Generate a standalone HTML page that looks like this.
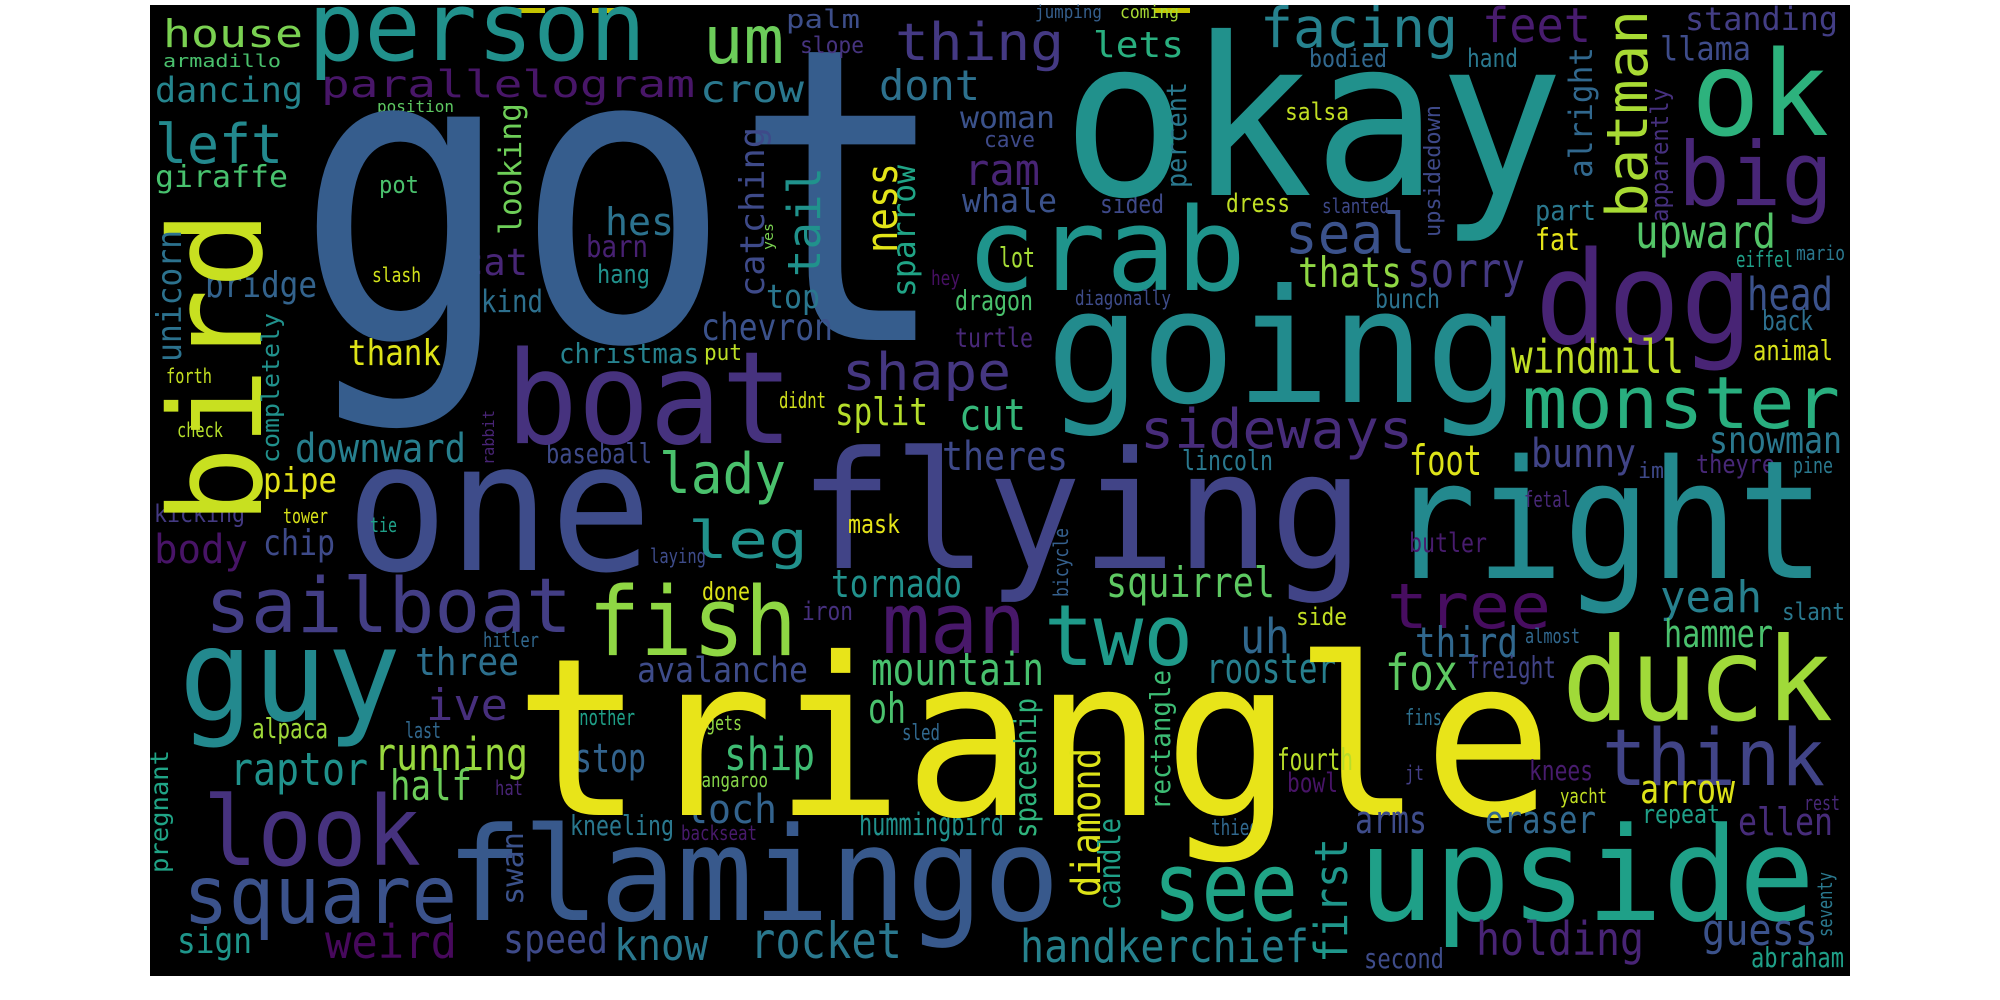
<!DOCTYPE html>
<html>
<head>
<meta charset="utf-8">
<style>
html,body{margin:0;padding:0;background:#fff;}
svg{display:block;}
text{font-family:"DejaVu Sans Mono","Liberation Mono",monospace;}
</style>
</head>
<body>
<svg id="cloud" width="2000" height="1000" viewBox="0 0 2000 1000" xmlns="http://www.w3.org/2000/svg">
<rect x="150" y="5" width="1700" height="971" fill="#000"/>
<rect x="510" y="8" width="35" height="5" fill="#c4c400"/>
<rect x="592" y="8" width="36" height="5" fill="#c4c400"/>
<rect x="1155" y="8" width="35" height="5" fill="#c4c400"/>
<g id="words"></g>
</svg>
<script>
// horizontal words: [text, x, baseline, fontSize, length, color]
const hWords = [
["house",163,47,38,140,"#7ad151"],["person",308,60,95,338,"#21918c"],["armadillo",163,67,18,118,"#4ac16d"],
["dancing",155,102,35,148,"#25858e"],["parallelogram",321,97,37,374,"#481668"],["position",377,112,16,77,"#5ec962"],
["left",155,163,54,128,"#23898e"],["giraffe",155,187,30,133,"#48c16e"],["pot",379,193,24,40,"#4ac16d"],
["hes",605,235,38,69,"#2c728e"],["cat",461,275,37,67,"#482677"],["barn",586,257,30,62,"#482173"],
["slash",372,282,20,49,"#d2e21b"],["hang",597,283,26,53,"#21918c"],["bridge",205,297,36,112,"#33638d"],
["kind",481,312,31,62,"#2d708e"],["thank",348,365,36,93,"#dde318"],["christmas",559,363,28,140,"#26828e"],
["forth",166,383,20,46,"#c5e021"],["check",177,437,20,46,"#b5de2b"],["downward",295,462,40,171,"#277f8e"],
["baseball",546,463,28,106,"#3e4a89"],["pipe",263,492,34,74,"#e5e419"],["got",295,340,410,656,"#365d8d"],
["um",703,63,66,81,"#6ccd5a"],["palm",786,28,26,74,"#3d4e8a"],["slope",800,53,23,64,"#46337f"],
["thing",895,60,52,169,"#443983"],["jumping",1035,18,18,67,"#355f8d"],["coming",1120,18,18,59,"#a8db34"],
["lets",1093,57,36,91,"#29af7f"],["crow",700,102,37,104,"#2a788e"],["dont",879,100,42,101,"#2d718e"],
["woman",960,128,30,95,"#3b528b"],["cave",984,147,22,51,"#3e4a89"],["ram",964,185,44,76,"#482475"],
["whale",962,212,33,95,"#3b528b"],["sided",1100,213,26,64,"#3e4989"],["dress",1226,212,26,64,"#c0df25"],
["crab",966,290,115,280,"#1f948c"],["lot",999,267,28,36,"#a5db36"],["hey",931,285,20,29,"#471063"],
["dragon",955,310,28,78,"#4ac16d"],["diagonally",1075,305,20,96,"#3e4c8a"],["top",766,308,33,54,"#2a778e"],
["chevron",701,340,37,132,"#3b528b"],["turtle",955,347,27,78,"#482878"],["put",704,360,22,38,"#bddf26"],
["shape",842,390,52,169,"#453781"],["didnt",779,408,22,47,"#d0e11c"],["split",835,425,38,93,"#b5de2b"],
["cut",959,430,44,67,"#35b779"],["going",1046,402,158,474,"#228b8d"],["sideways",1140,448,54,273,"#472c7a"],
["theres",942,470,40,126,"#3e4989"],["lincoln",1182,470,28,91,"#2a788e"],["lady",659,493,56,127,"#4ac16d"],
["flying",799,568,163,565,"#414487"],["one",346,570,180,306,"#3e4c8a"],["boat",506,443,128,287,"#46327e"],
["facing",1260,47,55,198,"#26828e"],["feet",1482,42,48,109,"#481c6e"],["standing",1685,30,32,153,"#433e85"],
["bodied",1309,67,25,78,"#31688e"],["hand",1467,67,26,51,"#2a788e"],["llama",1660,60,33,91,"#3e4c8a"],
["salsa",1285,120,24,64,"#c2df23"],["slanted",1322,213,20,67,"#3e4989"],["seal",1285,253,56,131,"#3b528b"],
["ok",1691,135,118,138,"#2db27d"],["big",1678,205,88,155,"#482677"],["part",1535,220,28,61,"#2a788e"],
["fat",1535,250,30,45,"#e5e419"],["upward",1635,248,46,141,"#54c568"],["eiffel",1736,267,22,57,"#1fa088"],
["mario",1796,260,20,49,"#2a788e"],["thats",1298,287,42,104,"#8fd744"],["sorry",1407,287,48,118,"#443983"],
["bunch",1375,308,27,65,"#2c728e"],["dog",1535,343,128,218,"#482475"],["head",1747,310,45,86,"#3b528b"],
["back",1762,330,28,51,"#2d708e"],["animal",1753,360,28,80,"#d8e219"],["windmill",1511,373,46,173,"#c0df25"],
["monster",1522,428,72,318,"#29af7f"],["foot",1409,475,42,73,"#dde318"],["bunny",1531,467,40,105,"#414487"],
["snowman",1709,453,37,133,"#2a788e"],["im",1638,478,22,26,"#3e4989"],["theyre",1696,473,26,79,"#482878"],
["pine",1793,473,22,40,"#2a788e"],["okay",1062,195,220,502,"#21918c"],["right",1389,578,165,436,"#23898e"],
["kicking",154,522,24,91,"#443a83"],["tower",283,523,20,45,"#d8e219"],["tie",370,532,20,27,"#1fa088"],
["body",154,563,40,94,"#481467"],["chip",263,555,36,72,"#3e4a89"],["sailboat",205,632,76,367,"#433e85"],
["hitler",483,647,20,56,"#31688e"],["laying",650,563,20,56,"#3e4c8a"],["fish",588,655,95,209,"#8fd744"],
["guy",179,720,128,222,"#23898e"],["three",415,675,38,104,"#2d708e"],["avalanche",637,682,35,171,"#3e4c8a"],
["ive",426,720,44,82,"#472f7d"],["alpaca",252,738,28,76,"#a0da39"],["last",405,738,22,36,"#31688e"],
["another",570,725,22,65,"#1fa088"],["gets",706,730,20,36,"#8fd744"],["raptor",230,785,45,138,"#20928c"],
["running",374,770,45,154,"#98d83e"],["half",390,800,42,82,"#6ccd5a"],["stop",574,772,40,72,"#33638d"],
["hat",495,795,20,28,"#482475"],["kangaroo",692,787,20,76,"#86d549"],["look",203,865,96,218,"#46327e"],
["loch",685,823,40,92,"#33638d"],["kneeling",570,835,28,104,"#2a788e"],["backseat",681,840,20,76,"#481a6c"],
["square",183,923,80,274,"#3b528b"],["flamingo",446,920,130,614,"#38598c"],["sign",177,953,36,75,"#1f968b"],
["weird",325,958,46,132,"#47095c"],["speed",503,953,40,105,"#3e4a89"],["know",614,960,44,94,"#2a788e"],
["leg",688,558,52,120,"#21918c"],["mask",848,533,26,52,"#e5e419"],["tornado",831,597,38,131,"#21918c"],
["squirrel",1106,597,42,169,"#5ec962"],["done",702,600,25,48,"#dde318"],["iron",802,620,26,51,"#46307e"],
["man",882,653,85,144,"#48186a"],["two",1044,665,85,149,"#1f9a8a"],["uh",1240,653,48,50,"#31688e"],
["mountain",871,685,45,173,"#48c16e"],["rooster",1206,683,42,130,"#277f8e"],["oh",868,723,42,38,"#4ac16d"],
["sled",902,740,22,38,"#31688e"],["ship",724,770,45,91,"#3fbc73"],["hummingbird",859,835,31,145,"#21918c"],
["thied",1211,835,22,48,"#31688e"],["triangle",514,815,220,1039,"#e8e419"],["see",1153,920,95,145,"#20a486"],
["rocket",750,958,50,152,"#2a788e"],["handkerchief",1020,962,45,289,"#26828e"],["fetal",1524,507,22,47,"#482878"],
["butler",1409,552,27,78,"#481c6e"],["tree",1387,628,62,164,"#470d60"],["yeah",1660,612,44,102,"#27808e"],
["side",1296,625,24,51,"#c2df23"],["slant",1782,620,24,63,"#2a788e"],["almost",1525,643,20,55,"#31688e"],
["hammer",1664,647,38,109,"#4ac16d"],["third",1415,657,42,103,"#31688e"],["fox",1385,690,50,73,"#5ec962"],
["freight",1467,678,30,89,"#414487"],["duck",1562,720,116,271,"#a0da39"],["fins",1405,725,22,37,"#2d708e"],
["think",1602,785,78,223,"#414487"],["fourth",1277,770,30,76,"#b8de29"],["bowl",1287,792,27,51,"#481467"],
["jt",1405,780,20,19,"#433e85"],["knees",1529,780,28,64,"#481c6e"],["yacht",1560,803,20,47,"#c2df23"],
["arrow",1640,803,40,95,"#dde318"],["rest",1804,810,20,36,"#482878"],["arms",1355,833,38,72,"#3e4c8a"],
["eraser",1485,833,38,111,"#31688e"],["repeat",1642,823,26,78,"#1fa088"],["ellen",1738,835,38,95,"#472c7a"],
["upside",1358,920,130,457,"#1fa088"],["holding",1476,955,46,168,"#482475"],["guess",1702,945,44,116,"#3b528b"],
["second",1364,968,28,80,"#3e4c8a"],["abraham",1751,967,28,93,"#1fa088"]
];
// vertical words (read bottom-to-top): [text, baselineX, bottomY, fontSize, length, color]
const vWords = [
["bird",261,525,128,315,"#c8e020"],["unicorn",181,362,34,132,"#2c728e"],["completely",279,463,24,150,"#21918c"],
["looking",521,235,31,132,"#6ece58"],["rabbit",494,465,16,55,"#482475"],["catching",764,297,34,170,"#3e4a89"],
["yes",773,250,14,27,"#7ad151"],["tail",820,277,45,110,"#20928c"],["ness",897,253,44,90,"#e2e418"],
["sparrow",915,297,32,132,"#20a486"],["percent",1186,188,28,106,"#2a788e"],["batman",1647,218,57,208,"#a8db34"],
["alright",1592,178,32,131,"#31688e"],["apparently",1668,222,24,134,"#46307e"],["upsidedown",1440,237,22,132,"#3e4989"],
["bicycle",1068,597,20,69,"#35608d"],["spaceship",1036,838,30,140,"#2fb47c"],["rectangle",1170,810,28,140,"#3dbc74"],
["diamond",1100,897,40,149,"#dde318"],["candle",1120,910,30,92,"#1fa088"],["pregnant",168,873,25,123,"#20a486"],
["swan",523,905,30,73,"#3b528b"],["first",1347,963,45,125,"#1f968b"],["seventy",1832,937,20,65,"#2a788e"]
];
const NS = "http://www.w3.org/2000/svg";
const g = document.getElementById("words");
function addWord(w, vertical) {
  const t = document.createElementNS(NS, "text");
  t.setAttribute("x", w[1]);
  t.setAttribute("y", w[2]);
  t.setAttribute("font-size", w[3]);
  t.setAttribute("textLength", w[4]);
  t.setAttribute("lengthAdjust", "spacingAndGlyphs");
  t.setAttribute("fill", w[5]);
  if (vertical) t.setAttribute("transform", "rotate(-90 " + w[1] + " " + w[2] + ")");
  
  
  t.textContent = w[0];
  g.appendChild(t);
}
hWords.forEach(w => addWord(w, false));
vWords.forEach(w => addWord(w, true));
</script>
</body>
</html>
